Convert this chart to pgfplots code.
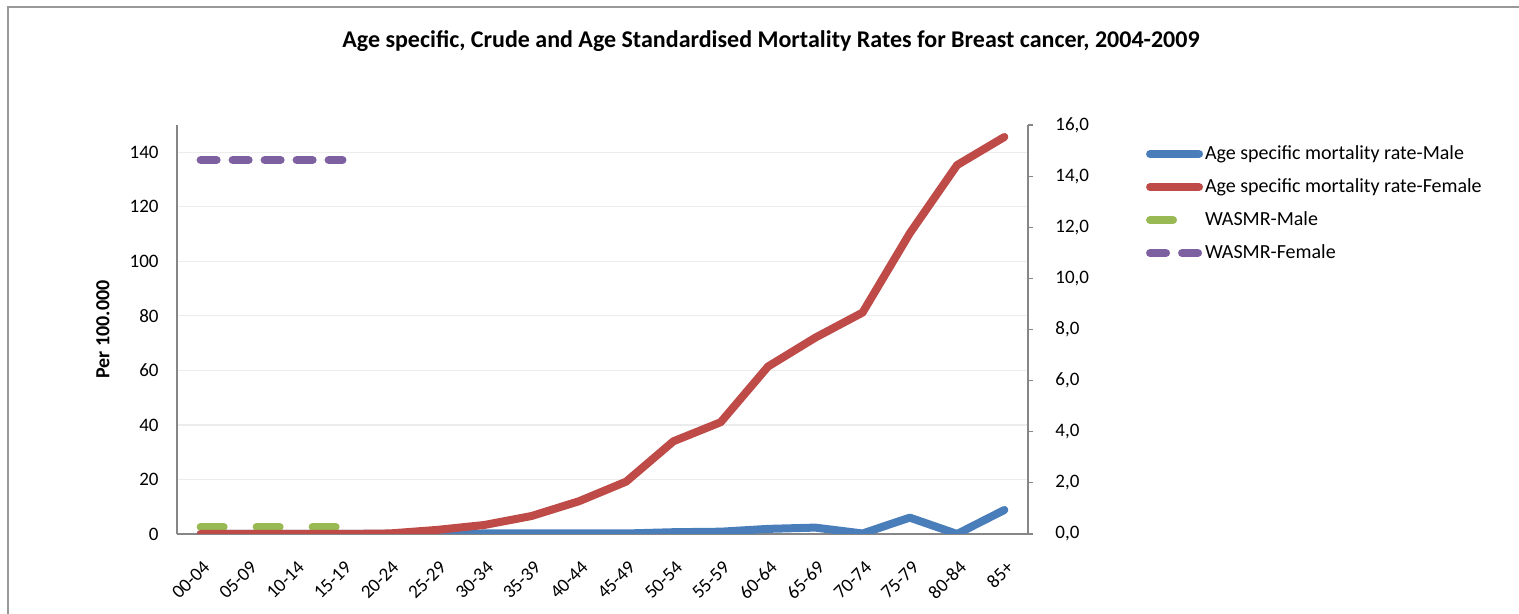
\documentclass[border=0pt]{standalone}
\usepackage{pgfplots}
\pgfplotsset{compat=1.18}
\usepackage{fontspec}
\setmainfont{Carlito}
\definecolor{cblue}{HTML}{4A7EBB}
\definecolor{cred}{HTML}{BE4B48}
\definecolor{cgreen}{HTML}{98B954}
\definecolor{cpurple}{HTML}{7D60A0}
\definecolor{axgray}{HTML}{868686}
\definecolor{gridgray}{HTML}{ECECEC}
\definecolor{framegray}{HTML}{999999}

\pgfplotsset{
  base/.style={
    at={(88.5pt,40pt)}, anchor=south west, scale only axis,
    width=425.5pt, height=204.5pt,
    xmin=-0.5, xmax=17.5,
    /pgf/number format/assume math mode=true,
    tick label style={font=\fontsize{9.5}{11}\selectfont},
  },
  lin/.style={line width=4pt, line cap=round, line join=round},
}

\begin{document}
\begin{tikzpicture}
\useasboundingbox (0,0) rectangle (759.5pt,307pt);
\draw[framegray, line width=1pt] (4pt,-20pt) rectangle (780pt,303.5pt);

% left scale: axes, grid, labels
\begin{axis}[base, ymin=0, ymax=150, ytick={0,20,...,140},
  axis x line*=bottom, axis y line*=left,
  axis line style={axgray, line width=0.6pt},
  major tick length=0pt,
  ymajorgrids, grid style={gridgray, line width=0.6pt},
  xtick={0,...,17},
  xticklabels={00-04,05-09,10-14,15-19,20-24,25-29,30-34,35-39,40-44,45-49,50-54,55-59,60-64,65-69,70-74,75-79,80-84,85+},
  xticklabel style={yshift=-15pt, xshift=3pt, rotate=45, anchor=east, inner sep=0pt},
  yticklabel style={inner sep=0pt, xshift=-9pt},
  ylabel={\textbf{Per 100.000}},
  every axis y label/.style={at={(axis description cs:-0.087,0.5)}, rotate=90, anchor=center, font=\fontsize{10}{12}\selectfont},
  title={\textbf{Age specific, Crude and Age Standardised Mortality Rates for Breast cancer, 2004-2009}},
  title style={at={(axis description cs:0.698,1.176)}, anchor=center, yshift=0pt, font=\fontsize{12}{14}\selectfont},
]
\end{axis}

% right scale: male series and WASMR
\begin{axis}[base, ymin=0, ymax=16, ytick={0,2,...,16},
  axis y line*=right, axis x line=none, xtick=\empty,
  axis line style={axgray, line width=0.6pt},
  tick style={axgray, line width=0.6pt},
  tick align=outside, major tick length=2.5pt,
  /pgf/number format/.cd, fixed, fixed zerofill, precision=1, use comma, /tikz/.cd,
  yticklabel style={inner sep=0pt, xshift=11pt, anchor=west},
]
\addplot[lin, cblue] coordinates {(0,0) (1,0) (2,0) (3,0) (4,0) (5,0.01) (6,0.02) (7,0.02) (8,0.02) (9,0.02) (10,0.07) (11,0.09) (12,0.2) (13,0.25) (14,0.02) (15,0.64) (16,0) (17,0.94)};
\addplot[lin, cgreen, dash pattern=on 11.5pt off 16.5pt] coordinates {(0,0.29) (1,0.29) (2,0.29) (3,0.29)};
\addplot[lin, cpurple, dash pattern=on 8pt off 8pt] coordinates {(0,14.63) (1,14.63) (2,14.63) (3,14.63)};
\end{axis}

% left scale: female series on top, legend
\begin{axis}[base, ymin=0, ymax=150, hide axis,
  legend image code/.code={\draw[#1] (2pt,0pt) -- (26.5pt,0pt);},
  legend cell align=left,
  legend style={at={(axis description cs:1.1387,0.951)}, anchor=north west, draw=none, fill=none,
    inner sep=0pt, outer sep=0pt, column sep=0pt, row sep=7.5pt,
    font=\fontsize{10}{12}\selectfont,
    nodes={inner xsep=1pt, inner ysep=0pt, text height=7pt, text depth=2pt}},
]
\addlegendimage{lin, cblue}
\addplot[lin, cred] coordinates {(0,0) (1,0) (2,0) (3,0) (4,0.2) (5,1.5) (6,3.3) (7,6.6) (8,12) (9,19.2) (10,34) (11,41) (12,61.4) (13,72) (14,81.2) (15,110.3) (16,135.3) (17,145.6)};
\addlegendimage{lin, cgreen, dash pattern=on 11.5pt off 16.5pt}
\addlegendimage{lin, cpurple, dash pattern=on 8pt off 8pt}
\legend{Age specific mortality rate-Male, Age specific mortality rate-Female, WASMR-Male, WASMR-Female}
\end{axis}
\end{tikzpicture}
\end{document}
